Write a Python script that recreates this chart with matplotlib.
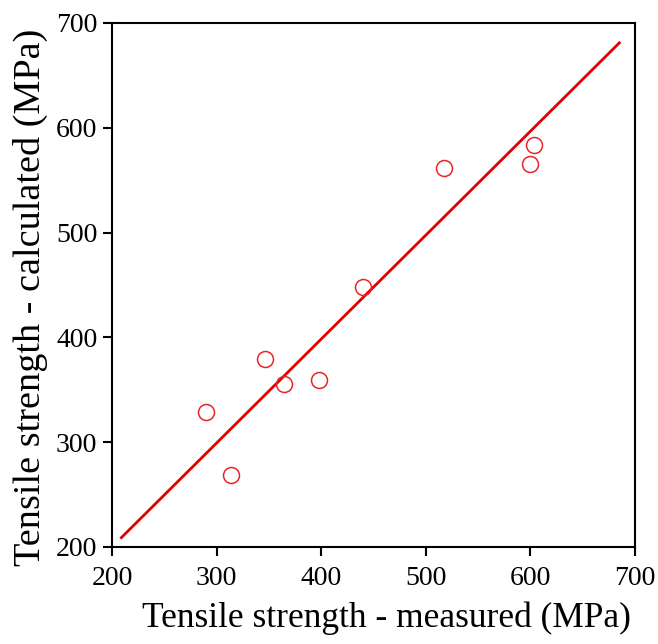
import matplotlib
matplotlib.use("Agg")
import matplotlib.pyplot as plt

# measured vs calculated tensile strength (MPa)
measured = [290, 314, 346, 364, 398, 440, 517, 600, 603]
calculated = [329, 269, 379, 356, 359, 448, 562, 565, 584]

# fitted line end points
line_x = [208, 686]
line_y = [208, 682]

plt.rcParams['font.family'] = ['Liberation Serif', 'DejaVu Serif']

fig = plt.figure(figsize=(6.58, 6.44), dpi=100)
ax = fig.add_axes([112 / 658, 1 - 547 / 644, 523 / 658, 524 / 644])

ax.plot(line_x, line_y, color='#e00000', lw=2, solid_capstyle='butt')
ax.plot(measured, calculated, 'o', mfc='none', mec='#e8262a', mew=1.1, ms=11.5)

ax.set_xlim(200, 700)
ax.set_ylim(200, 700)
ax.set_xticks(range(200, 701, 100))
ax.set_yticks(range(200, 701, 100))

for s in ax.spines.values():
    s.set_linewidth(1.5)
ax.tick_params(direction='out', length=6.5, width=1.5, labelsize=20, pad=4)
ax.tick_params(axis='x', pad=7)

ax.set_xlabel('Tensile strength - measured (MPa)', fontsize=25.5, labelpad=8)
ax.set_ylabel('Tensile strength - calculated (MPa)', fontsize=27.5, labelpad=6)
ax.xaxis.label.set_x(0.524)
ax.yaxis.label.set_y(0.477)

fig.savefig('out.png', dpi=100)
